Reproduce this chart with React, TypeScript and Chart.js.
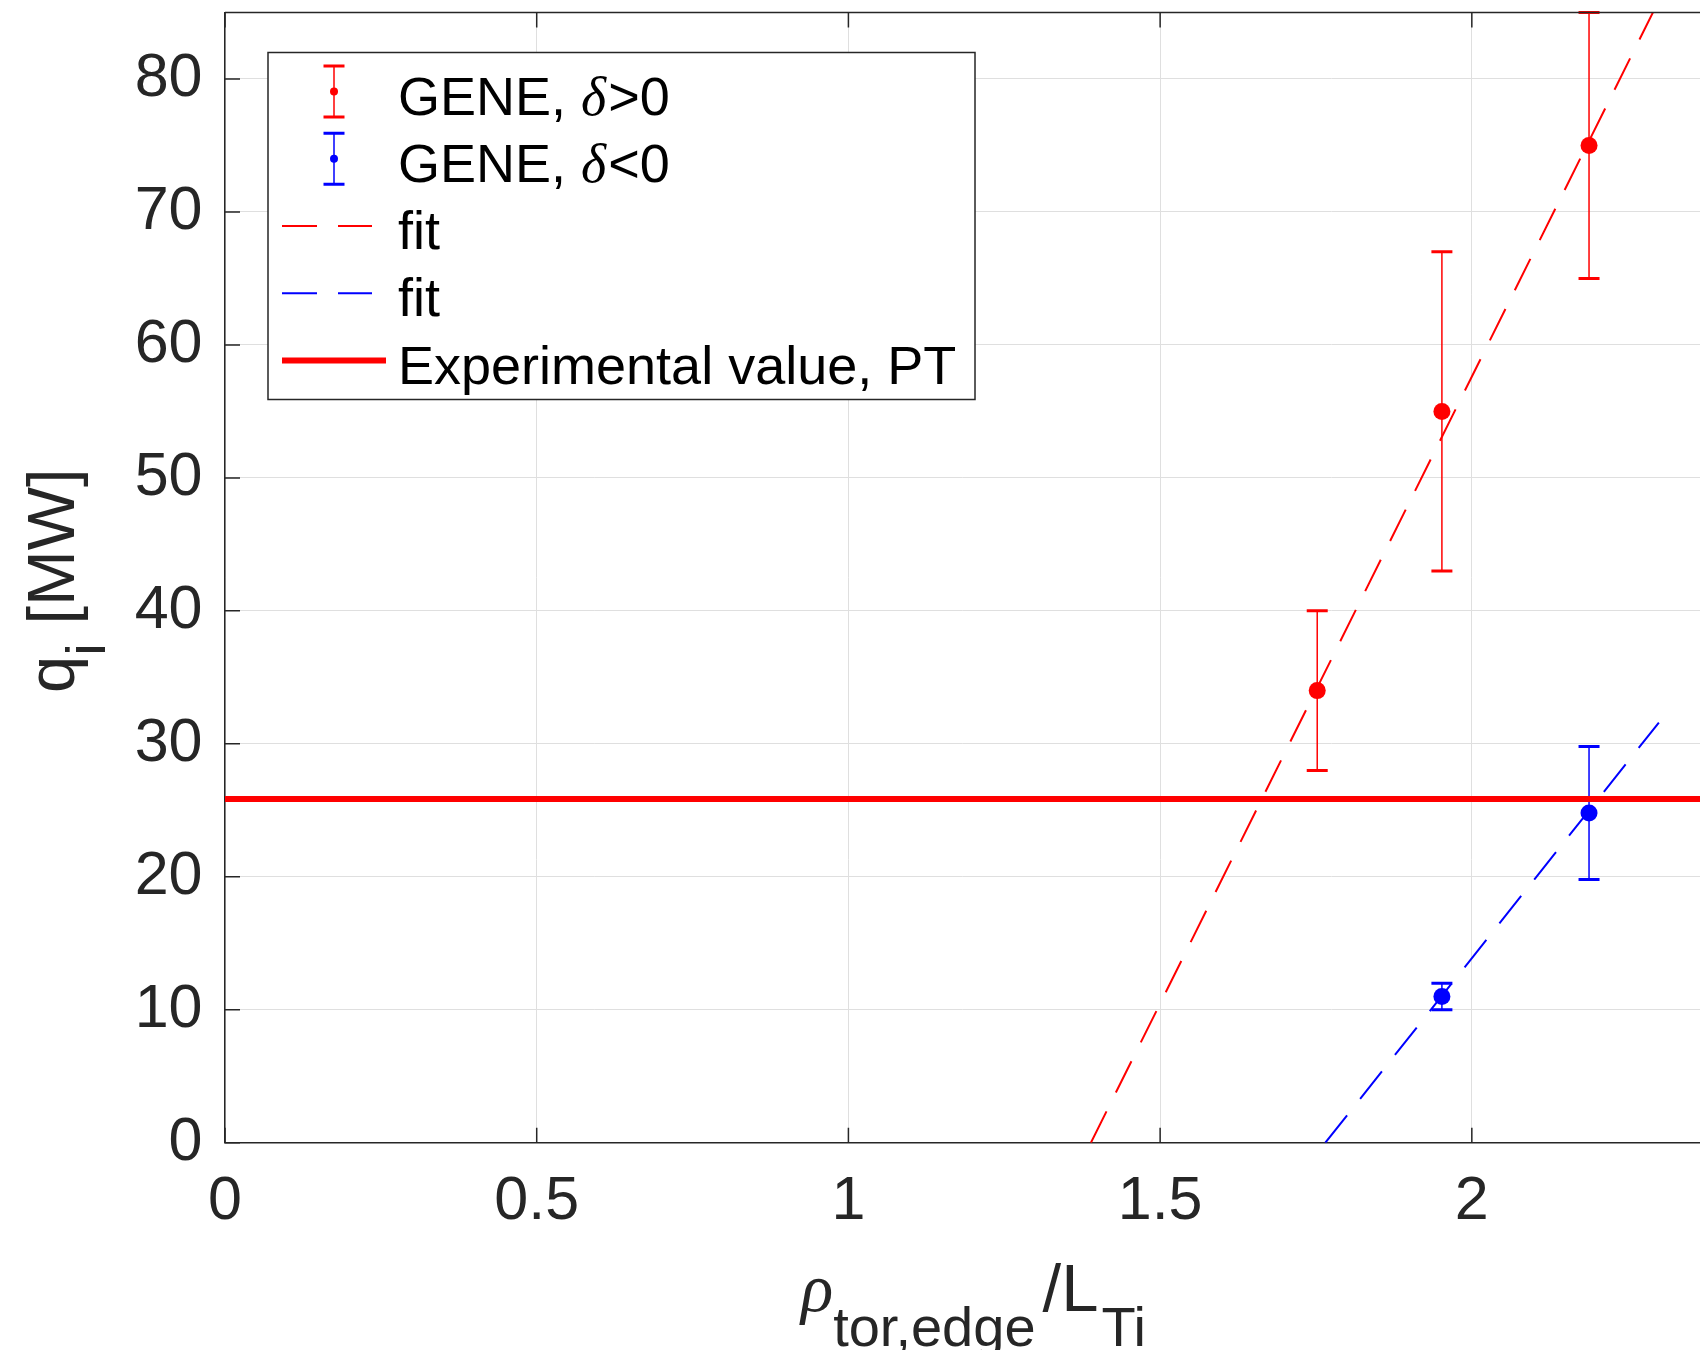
import React, { useEffect, useRef } from 'react';
import { Chart, registerables } from 'chart.js';

Chart.register(...registerables);

// ---------- data ----------
const xTickValues = [0, 0.5, 1, 1.5, 2];
const yTickValues = [0, 10, 20, 30, 40, 50, 60, 70, 80];
const xLimits = [0, 2.366];
const yLimits = [0, 85];

const genePosX = [1.752, 1.952, 2.188];
const genePosY = [34, 55, 75];
const genePosLow = [28, 43, 65];
const genePosHigh = [40, 67, 85];

const geneNegX = [1.952, 2.188];
const geneNegY = [11, 24.8];
const geneNegLow = [10, 19.8];
const geneNegHigh = [12, 29.8];

const fitPosX = [1.389, 2.3];
const fitPosY = [0, 85.9];
const fitNegX = [1.765, 2.3];
const fitNegY = [0, 31.6];

const expX = [0, 2.5];
const expY = [25.85, 25.85];

const legendLabels = ['GENE, ', 'GENE, ', 'fit', 'fit', 'Experimental value, PT'];
const legendSymbols = ['>0', '<0'];

const RED = '#ff0000';
const BLUE = '#0000ff';
const AXIS = '#262626';
const SANS = '"Liberation Sans", Arial, Helvetica, sans-serif';
const SERIF = '"Liberation Serif", "Times New Roman", serif';

const pts = (xs: number[], ys: number[]) => xs.map((x, i) => ({ x, y: ys[i] }));

function drawErrorBars(ctx: CanvasRenderingContext2D, chart: any, xs: number[], lo: number[], hi: number[], color: string) {
  const xs_ = chart.scales.x;
  const ys_ = chart.scales.y;
  const area = chart.chartArea;
  ctx.save();
  ctx.beginPath();
  ctx.rect(area.left, area.top - 2, area.right - area.left, area.bottom - area.top + 4);
  ctx.clip();
  ctx.strokeStyle = color;
  xs.forEach((x, i) => {
    const px = xs_.getPixelForValue(x);
    const pl = ys_.getPixelForValue(lo[i]);
    const ph = ys_.getPixelForValue(hi[i]);
    ctx.lineWidth = 1.5;
    ctx.beginPath();
    ctx.moveTo(px, pl);
    ctx.lineTo(px, ph);
    ctx.stroke();
    ctx.lineWidth = 3;
    ctx.beginPath();
    ctx.moveTo(px - 10.5, pl);
    ctx.lineTo(px + 10.5, pl);
    ctx.moveTo(px - 10.5, ph);
    ctx.lineTo(px + 10.5, ph);
    ctx.stroke();
  });
  ctx.restore();
}

const chromePlugin = {
  id: 'chrome',
  beforeDatasetsDraw(chart: any) {
    const ctx = chart.ctx as CanvasRenderingContext2D;
    drawErrorBars(ctx, chart, genePosX, genePosLow, genePosHigh, RED);
    drawErrorBars(ctx, chart, geneNegX, geneNegLow, geneNegHigh, BLUE);
  },
  afterDraw(chart: any) {
    const ctx = chart.ctx as CanvasRenderingContext2D;
    const a = chart.chartArea;
    const sx = chart.scales.x;
    const sy = chart.scales.y;

    // top border + inward ticks
    ctx.save();
    ctx.strokeStyle = AXIS;
    ctx.lineWidth = 1.5;
    ctx.beginPath();
    ctx.moveTo(a.left, a.top);
    ctx.lineTo(a.right + 2, a.top);
    ctx.stroke();
    const TL = 15;
    ctx.beginPath();
    xTickValues.forEach((v) => {
      const px = sx.getPixelForValue(v);
      ctx.moveTo(px, a.bottom);
      ctx.lineTo(px, a.bottom - TL);
      ctx.moveTo(px, a.top);
      ctx.lineTo(px, a.top + TL);
    });
    yTickValues.forEach((v) => {
      const py = sy.getPixelForValue(v);
      ctx.moveTo(a.left, py);
      ctx.lineTo(a.left + TL, py);
    });
    ctx.stroke();
    ctx.restore();

    // legend
    const L = a.left + 43;
    const T = a.top + 40;
    const W = 707;
    const H = 347;
    ctx.save();
    ctx.fillStyle = '#ffffff';
    ctx.fillRect(L, T, W, H);
    ctx.strokeStyle = AXIS;
    ctx.lineWidth = 1.5;
    ctx.strokeRect(L, T, W, H);
    const rowY = (i: number) => T + 39 + 67.25 * i;
    const textX = L + 130;
    [RED, BLUE].forEach((c, i) => {
      const cy = rowY(i);
      const cx = L + 66;
      ctx.strokeStyle = c;
      ctx.fillStyle = c;
      ctx.lineWidth = 1.5;
      ctx.beginPath();
      ctx.moveTo(cx, cy - 25.5);
      ctx.lineTo(cx, cy + 25.5);
      ctx.stroke();
      ctx.lineWidth = 3;
      ctx.beginPath();
      ctx.moveTo(cx - 10.5, cy - 25.5);
      ctx.lineTo(cx + 10.5, cy - 25.5);
      ctx.moveTo(cx - 10.5, cy + 25.5);
      ctx.lineTo(cx + 10.5, cy + 25.5);
      ctx.stroke();
      ctx.beginPath();
      ctx.arc(cx, cy, 4, 0, Math.PI * 2);
      ctx.fill();
    });
    [RED, BLUE].forEach((c, j) => {
      const cy = rowY(2 + j);
      ctx.strokeStyle = c;
      ctx.lineWidth = 2;
      ctx.setLineDash([35, 21]);
      ctx.beginPath();
      ctx.moveTo(L + 14, cy);
      ctx.lineTo(L + 104, cy);
      ctx.stroke();
      ctx.setLineDash([]);
    });
    ctx.strokeStyle = RED;
    ctx.lineWidth = 6;
    ctx.beginPath();
    ctx.moveTo(L + 14, rowY(4));
    ctx.lineTo(L + 118, rowY(4));
    ctx.stroke();
    ctx.fillStyle = '#000000';
    ctx.textBaseline = 'alphabetic';
    ctx.textAlign = 'left';
    legendLabels.forEach((lab, i) => {
      const by = rowY(i) + 23;
      ctx.font = `54px ${SANS}`;
      ctx.fillText(lab, textX, by);
      if (i < 2) {
        let x = textX + ctx.measureText(lab).width;
        ctx.font = `italic 54px ${SERIF}`;
        ctx.fillText('δ', x, by);
        x += ctx.measureText('δ').width + 2;
        ctx.font = `54px ${SANS}`;
        ctx.fillText(legendSymbols[i], x, by);
      }
    });
    ctx.restore();

    // x axis title: rho_{tor,edge}/L_{Ti}
    ctx.save();
    ctx.fillStyle = AXIS;
    ctx.textBaseline = 'alphabetic';
    ctx.textAlign = 'left';
    const mainF = `67px ${SANS}`;
    const subF = `56px ${SANS}`;
    const rhoF = `italic 67px ${SERIF}`;
    const parts: [string, string, number, number][] = [
      ['ρ', rhoF, 0, 0],
      ['tor,edge', subF, 35, 7],
      ['/L', mainF, 0, 3],
      ['Ti', subF, 35, 0],
    ];
    let total = 0;
    const widths = parts.map(([t, f, , gap]) => {
      ctx.font = f;
      const w = ctx.measureText(t).width + gap;
      total += w;
      return w;
    });
    let x0 = (a.left + a.right) / 2 + 11 - total / 2;
    const baseX = a.bottom + 168.5;
    parts.forEach(([t, f, dy], i) => {
      ctx.font = f;
      ctx.fillText(t, x0, baseX + dy);
      x0 += widths[i];
    });
    ctx.restore();

    // y axis title: q_i [MW]
    ctx.save();
    ctx.fillStyle = AXIS;
    ctx.textBaseline = 'alphabetic';
    ctx.textAlign = 'left';
    const yparts: [string, string, number][] = [
      ['q', mainF, 0],
      ['i', subF, 31],
      [' [MW]', mainF, 0],
    ];
    let ytotal = 0;
    const ywidths = yparts.map(([t, f]) => {
      ctx.font = f;
      const w = ctx.measureText(t).width;
      ytotal += w;
      return w;
    });
    ctx.translate(74, (a.top + a.bottom) / 2 + 3);
    ctx.rotate(-Math.PI / 2);
    let y0 = -ytotal / 2;
    yparts.forEach(([t, f, dy], i) => {
      ctx.font = f;
      ctx.fillText(t, y0, dy);
      y0 += ywidths[i];
    });
    ctx.restore();
  },
};

export default function App() {
  const ref = useRef<HTMLCanvasElement | null>(null);

  useEffect(() => {
    if (!ref.current) return;
    Chart.defaults.font.family = SANS;
    const chart = new Chart(ref.current, {
      type: 'scatter',
      data: {
        datasets: [
          {
            label: 'Experimental value, PT',
            data: pts(expX, expY),
            showLine: true,
            borderColor: RED,
            borderWidth: 6,
            pointRadius: 0,
            fill: false,
          },
          {
            label: 'fit',
            data: pts(fitPosX, fitPosY),
            showLine: true,
            borderColor: RED,
            borderWidth: 2,
            borderDash: [35, 21],
            pointRadius: 0,
            fill: false,
          },
          {
            label: 'fit',
            data: pts(fitNegX, fitNegY),
            showLine: true,
            borderColor: BLUE,
            borderWidth: 2,
            borderDash: [35, 21],
            pointRadius: 0,
            fill: false,
          },
          {
            label: 'GENE, δ>0',
            data: pts(genePosX, genePosY),
            showLine: false,
            pointRadius: 8.5,
            pointBackgroundColor: RED,
            pointBorderColor: RED,
            pointBorderWidth: 0,
          },
          {
            label: 'GENE, δ<0',
            data: pts(geneNegX, geneNegY),
            showLine: false,
            pointRadius: 8.5,
            pointBackgroundColor: BLUE,
            pointBorderColor: BLUE,
            pointBorderWidth: 0,
          },
        ],
      },
      options: {
        animation: false,
        responsive: false,
        devicePixelRatio: 1,
        layout: { autoPadding: false, padding: { top: 12.5, left: 0, right: 0, bottom: 0 } },
        plugins: {
          legend: { display: false },
          tooltip: { enabled: false },
        },
        scales: {
          x: {
            type: 'linear',
            min: xLimits[0],
            max: xLimits[1],
            afterBuildTicks: (s: any) => {
              s.ticks = xTickValues.map((v) => ({ value: v }));
            },
            afterFit: (s: any) => {
              s.height = 1350 - 1142.7;
              s.paddingLeft = 0;
              s.paddingRight = 0;
            },
            grid: { color: '#dfdfdf', lineWidth: 1, drawTicks: false },
            border: { display: true, color: AXIS, width: 1.5 },
            ticks: {
              padding: 23,
              color: AXIS,
              font: { size: 61, family: SANS },
              maxRotation: 0,
              callback: (v: any) => String(v),
            },
          },
          y: {
            type: 'linear',
            min: yLimits[0],
            max: yLimits[1],
            afterBuildTicks: (s: any) => {
              s.ticks = yTickValues.map((v) => ({ value: v }));
            },
            afterFit: (s: any) => {
              s.width = 225;
              s.paddingTop = 0;
              s.paddingBottom = 0;
            },
            grid: { color: '#dfdfdf', lineWidth: 1, drawTicks: false },
            border: { display: true, color: AXIS, width: 1.5 },
            ticks: {
              padding: 22.5,
              color: AXIS,
              font: { size: 61, family: SANS },
              callback: (v: any) => String(v),
            },
          },
        },
      },
      plugins: [chromePlugin],
    } as any);
    return () => chart.destroy();
  }, []);

  return (
    <div style={{ position: 'fixed', left: 0, top: 0, width: 1700, height: 1350, background: '#ffffff', overflow: 'hidden' }}>
      <canvas ref={ref} width={1700} height={1350} style={{ display: 'block', width: 1700, height: 1350 }} />
    </div>
  );
}
